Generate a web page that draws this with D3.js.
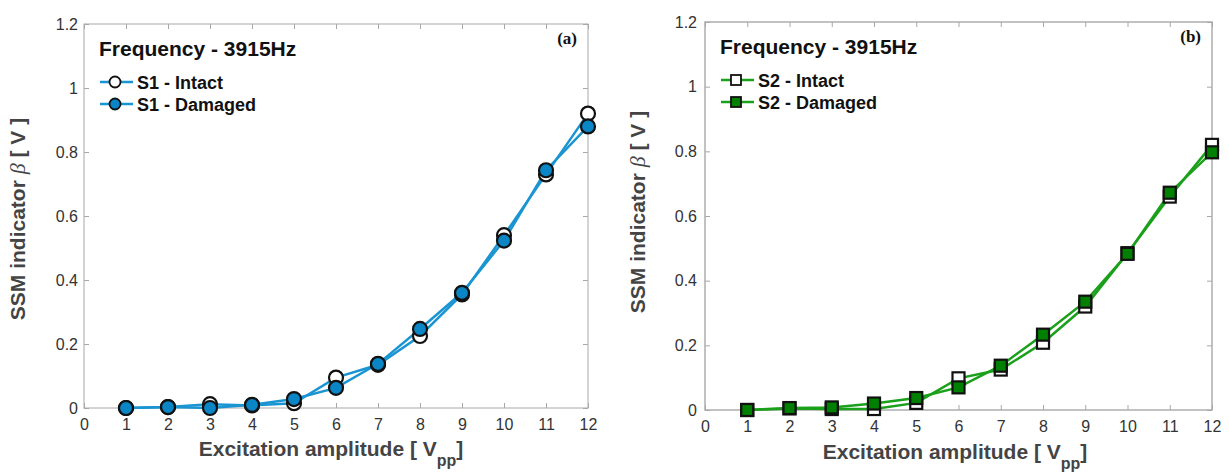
<!DOCTYPE html>
<html><head><meta charset="utf-8">
<script src="https://cdn.jsdelivr.net/npm/d3@7"></script>
<style>
body{margin:0;background:#fff;}
text{font-family:"Liberation Sans",Arial,Helvetica,sans-serif;}
</style></head>
<body><svg id="c" width="1229" height="472"></svg>
<script>
const amplitudes = [1,2,3,4,5,6,7,8,9,10,11,12];
const xTicks = [0,1,2,3,4,5,6,7,8,9,10,11,12];
const yTicks = [0,0.2,0.4,0.6,0.8,1,1.2];
const yTickLabels = ["0","0.2","0.4","0.6","0.8","1","1.2"];
const s1Intact  = [0,0.003,0.012,0.008,0.015,0.095,0.135,0.225,0.355,0.540,0.730,0.920];
const s1Damaged = [0,0.003,0.000,0.010,0.028,0.063,0.138,0.247,0.360,0.523,0.743,0.880];
const s2Intact  = [0,0.005,0.003,0.003,0.022,0.098,0.125,0.208,0.320,0.485,0.660,0.820];
const s2Damaged = [0,0.006,0.008,0.020,0.037,0.070,0.137,0.233,0.335,0.483,0.672,0.797];
const panelTitle = "Frequency - 3915Hz";
const xLabelMain = "Excitation amplitude [ V";
const yLabelMain = "SSM indicator ";

const svg = d3.select("#c");

function panel(o){
  const g = svg.append("g");
  const x = d3.scaleLinear().domain([0,12]).range([o.x0,o.x1]);
  const y = d3.scaleLinear().domain([0,1.2]).range([o.y0,o.y1]);
  const axc = "#a8a8a8";
  g.append("rect").attr("x",o.x0).attr("y",o.y1).attr("width",o.x1-o.x0).attr("height",o.y0-o.y1)
    .attr("fill","none").attr("stroke",axc).attr("stroke-width",o.boxW);
  const xb = g.append("g").attr("transform",`translate(0,${o.y0})`)
    .call(d3.axisBottom(x).tickValues(xTicks).tickSize(-5).tickPadding(11).tickFormat(d3.format("d")));
  const xt = g.append("g").attr("transform",`translate(0,${o.y1})`)
    .call(d3.axisTop(x).tickValues(xTicks).tickSize(-5).tickFormat(""));
  const yl = g.append("g").attr("transform",`translate(${o.x0},0)`)
    .call(d3.axisLeft(y).tickValues(yTicks).tickSize(-5).tickPadding(o.yPad).tickFormat((d,i)=>yTickLabels[i]));
  const yr = g.append("g").attr("transform",`translate(${o.x1},0)`)
    .call(d3.axisRight(y).tickValues(yTicks).tickSize(-5).tickFormat(""));
  [xb,xt,yl,yr].forEach(a=>{
    a.select(".domain").remove();
    a.selectAll(".tick line").attr("stroke",axc);
    a.selectAll(".tick text").attr("fill","#333").style("font-size","16px").style("font-family","'Liberation Sans',Arial,sans-serif");
  });
  const line = d3.line().x((d,i)=>x(amplitudes[i])).y(d=>y(d));
  const series = [{v:o.intact,fill:"#fff"},{v:o.damaged,fill:o.fill}];
  series.forEach(s=>{
    g.append("path").datum(s.v).attr("d",line).attr("fill","none").attr("stroke",o.color).attr("stroke-width",2.5);
  });
  series.forEach(s=>{
    drawMarkers(g, s.v.map((v,i)=>[x(amplitudes[i]),y(v)]), o.shape, s.fill);
  });
  g.append("text").attr("x",o.x0+15).attr("y",o.y1+32).text(panelTitle)
    .style("font-weight","bold").style("font-size","21px").attr("fill","#111");
  const leg = [{t:o.names[0],fill:"#fff"},{t:o.names[1],fill:o.fill}];
  leg.forEach((l,i)=>{
    const ly = o.y1+58+i*22;
    const lx = o.x0+16;
    g.append("line").attr("x1",lx).attr("x2",lx+33).attr("y1",ly).attr("y2",ly).attr("stroke",o.color).attr("stroke-width",2.5);
    drawMarkers(g,[[lx+15,ly]],o.shape,l.fill,true);
    g.append("text").attr("x",lx+37).attr("y",ly+6.5).text(l.t)
      .style("font-weight","bold").style("font-size","18px").attr("fill","#111");
  });
  g.append("text").attr("x",o.x1-11).attr("y",o.y1+20).attr("text-anchor","end").text(o.letter)
    .style("font-family","'Liberation Serif','Times New Roman',serif").style("font-weight","bold").style("font-size","17px").attr("fill","#111");
  const xl = g.append("text").attr("x",o.xlX).attr("y",o.xlY).attr("text-anchor","middle")
    .style("font-weight","bold").style("font-size","21px").attr("fill","#444");
  xl.append("tspan").text(xLabelMain);
  xl.append("tspan").text("pp").attr("dy",10).style("font-size","16px");
  xl.append("tspan").text("]").attr("dy",-10);
  const ylab = g.append("text").attr("transform",`translate(${o.ylX},${o.ylY}) rotate(-90)`)
    .attr("text-anchor","middle").style("font-weight","bold").style("font-size","21px").attr("fill","#444");
  ylab.append("tspan").text(yLabelMain);
  ylab.append("tspan").text("β").style("font-weight","normal").style("font-style","italic")
    .style("font-family","'Liberation Serif','Times New Roman',serif").style("font-size","22px");
  ylab.append("tspan").text(" [ V ]");
}

function drawMarkers(g, pts, shape, fill, small){
  if(shape==="circle"){
    g.selectAll(null).data(pts).enter().append("circle")
      .attr("cx",d=>d[0]).attr("cy",d=>d[1]).attr("r",small?5.5:7)
      .attr("fill",fill).attr("stroke","#111").attr("stroke-width",small?1.8:2.2);
  } else {
    const s = small?10:12;
    g.selectAll(null).data(pts).enter().append("rect")
      .attr("x",d=>d[0]-s/2).attr("y",d=>d[1]-s/2).attr("width",s).attr("height",s)
      .attr("fill",fill).attr("stroke","#111").attr("stroke-width",small?1.8:2.2);
  }
}

panel({x0:84,x1:588,y0:408,y1:24,boxW:1,yPad:6,intact:s1Intact,damaged:s1Damaged,color:"#1a95d2",fill:"#0a86c6",
  shape:"circle",names:["S1 - Intact","S1 - Damaged"],letter:"(a)",xlX:331,xlY:456,ylX:25,ylY:219});
panel({x0:705,x1:1212,y0:410,y1:22,boxW:1.4,yPad:8,intact:s2Intact,damaged:s2Damaged,color:"#1aa01a",fill:"#008000",
  shape:"square",names:["S2 - Intact","S2 - Damaged"],letter:"(b)",xlX:955,xlY:459,ylX:645,ylY:212});
</script></body></html>
